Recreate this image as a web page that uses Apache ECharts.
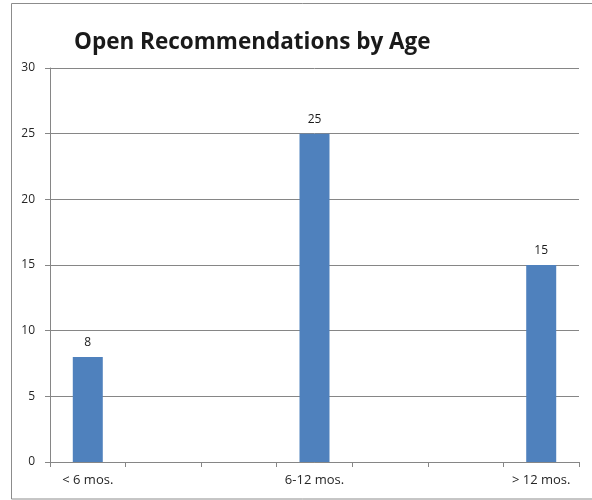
<!DOCTYPE html>
<html>
<head>
<meta charset="utf-8">
<script src="https://cdn.jsdelivr.net/npm/echarts@6/dist/echarts.min.js"></script>
<style>
html,body{margin:0;padding:0;background:#fff;}
#main{width:592px;height:500px;}
</style>
</head>
<body>
<div id="main"></div>
<script>
var titleText = "Open Recommendations by Age";
var categories = ["< 6 mos.", "", "", "6-12 mos.", "", "", "> 12 mos."];
var values = [8, null, null, 25, null, null, 15];
var yTicks = [0, 5, 10, 15, 20, 25, 30];

var chart = echarts.init(document.getElementById('main'), null, {renderer: 'canvas'});
var fontFam = "'Open Sans', 'Liberation Sans', Arial, sans-serif";
chart.setOption({
  animation: false,
  backgroundColor: '#fff',
  graphic: [{
    type: 'rect',
    shape: {x: 11.5, y: 3.5, width: 600, height: 495.5},
    style: {fill: 'none', stroke: '#8c8c8c', lineWidth: 1},
    silent: true
  }],
  title: {
    text: titleText,
    left: 69, top: 26,
    textStyle: {fontFamily: fontFam, fontWeight: 'bold', fontSize: 22.5, color: '#1a1a1a'}
  },
  grid: {left: 50, right: 13, top: 68, bottom: 38, containLabel: false},
  xAxis: {
    type: 'category',
    data: categories,
    axisLine: {lineStyle: {color: '#868686'}},
    axisTick: {show: true, interval: 0, length: 5, lineStyle: {color: '#868686'}},
    axisLabel: {interval: 0, margin: 12, color: '#262626', fontFamily: fontFam, fontSize: 13}
  },
  yAxis: {
    type: 'value',
    min: yTicks[0], max: yTicks[yTicks.length - 1], interval: 5,
    axisLine: {show: true, lineStyle: {color: '#868686'}},
    axisTick: {show: true, length: 5, lineStyle: {color: '#868686'}},
    axisLabel: {margin: 15, color: '#262626', fontFamily: fontFam, fontSize: 12},
    splitLine: {lineStyle: {color: '#868686', width: 1}}
  },
  series: [{
    type: 'bar',
    data: values,
    barWidth: 30,
    itemStyle: {color: '#4f81bd'},
    label: {show: true, position: 'top', distance: 8, color: '#1a1a1a', fontFamily: fontFam, fontSize: 12}
  }]
});
</script>
</body>
</html>
